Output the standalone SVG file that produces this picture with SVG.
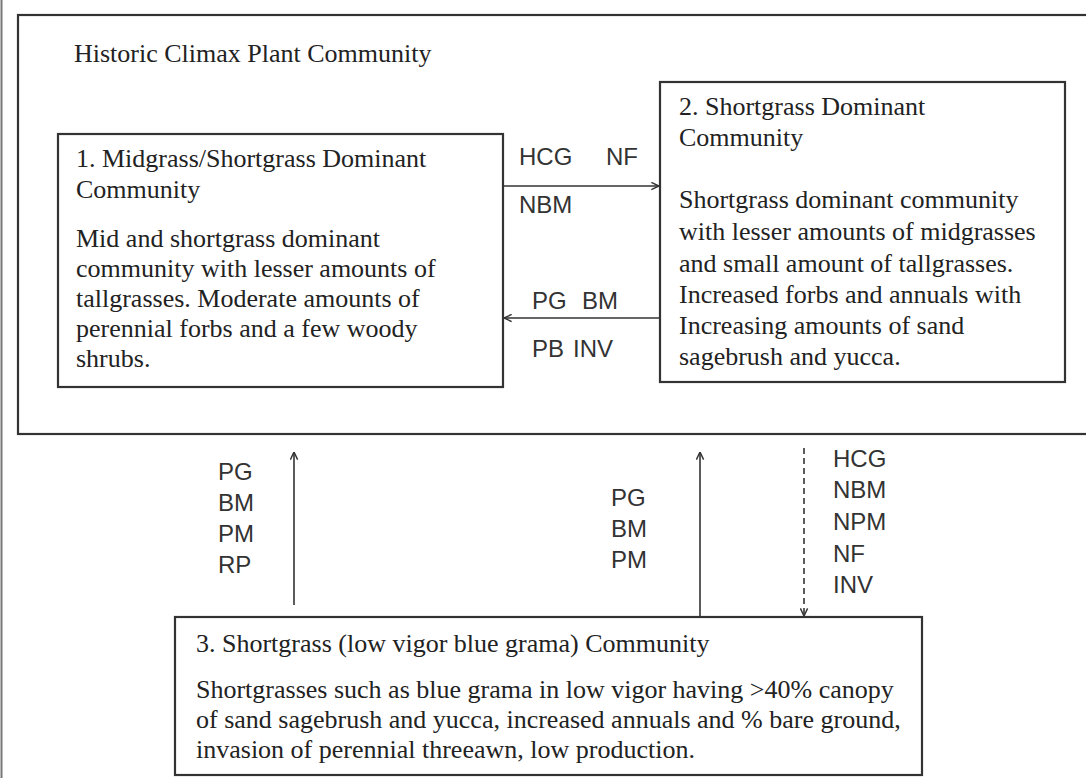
<svg xmlns="http://www.w3.org/2000/svg" width="1086" height="778" viewBox="0 0 1086 778">
<style>
.box{fill:#fff;stroke:#333;stroke-width:2.2}
.serif{font-family:"Liberation Serif","Times New Roman",serif;font-size:26px;fill:#222}
.sans{font-family:"Liberation Sans",Arial,sans-serif;font-size:24px;fill:#333}
.arr{stroke:#333;stroke-width:1.6;fill:none}
</style>
<defs>
<marker id="ah" viewBox="0 0 10 10" refX="9.5" refY="5" markerWidth="9" markerHeight="9" markerUnits="userSpaceOnUse" orient="auto">
<path d="M1,1 L9.5,5 L1,9" fill="none" stroke="#333" stroke-width="1.6"/>
</marker>
</defs>
<rect width="1086" height="778" fill="#fff"/>
<line x1="1.5" y1="0" x2="1.5" y2="778" stroke="#777" stroke-width="2"/>
<g id="hcpc">
<rect class="box" x="18" y="15" width="1090" height="419"/>
<text class="serif" x="74" y="62">Historic Climax Plant Community</text>
</g>
<g id="node1">
<rect class="box" x="58" y="134" width="445" height="253"/>
<text class="serif" x="76" y="167">1. Midgrass/Shortgrass Dominant</text>
<text class="serif" x="76" y="198">Community</text>
<text class="serif" x="76" y="247">Mid and shortgrass dominant</text>
<text class="serif" x="76" y="277">community with lesser amounts of</text>
<text class="serif" x="76" y="307">tallgrasses. Moderate amounts of</text>
<text class="serif" x="76" y="337">perennial forbs and a few woody</text>
<text class="serif" x="76" y="367">shrubs.</text>
</g>
<g id="node2">
<rect class="box" x="660" y="82" width="405" height="300"/>
<text class="serif" x="679" y="115">2. Shortgrass Dominant</text>
<text class="serif" x="679" y="146">Community</text>
<text class="serif" x="679" y="208">Shortgrass dominant community</text>
<text class="serif" x="679" y="240">with lesser amounts of midgrasses</text>
<text class="serif" x="679" y="272">and small amount of tallgrasses.</text>
<text class="serif" x="679" y="303">Increased forbs and annuals with</text>
<text class="serif" x="679" y="334">Increasing amounts of sand</text>
<text class="serif" x="679" y="365">sagebrush and yucca.</text>
</g>
<g id="node3">
<rect class="box" x="175" y="617" width="747" height="158"/>
<text class="serif" x="196" y="652">3. Shortgrass (low vigor blue grama) Community</text>
<text class="serif" x="196" y="698">Shortgrasses such as blue grama in low vigor having &gt;40% canopy</text>
<text class="serif" x="196" y="728">of sand sagebrush and yucca, increased annuals and % bare ground,</text>
<text class="serif" x="196" y="758">invasion of perennial threeawn, low production.</text>
</g>
<g id="connectors">
<line class="arr" x1="503" y1="186" x2="659" y2="186" marker-end="url(#ah)"/>
<line class="arr" x1="660" y1="318" x2="504" y2="318" marker-end="url(#ah)"/>
<line class="arr" x1="294" y1="605" x2="294" y2="452" marker-end="url(#ah)"/>
<line class="arr" x1="700" y1="617" x2="700" y2="452" marker-end="url(#ah)"/>
<line class="arr" x1="804" y1="448" x2="804" y2="616" stroke-dasharray="6,4" marker-end="url(#ah)"/>
<text class="sans" x="519" y="165">HCG</text>
<text class="sans" x="606" y="165">NF</text>
<text class="sans" x="519" y="213">NBM</text>
<text class="sans" x="532" y="309">PG</text>
<text class="sans" x="582" y="309">BM</text>
<text class="sans" x="532" y="357">PB</text>
<text class="sans" x="573" y="357">INV</text>
<text class="sans" x="218" y="480">PG</text>
<text class="sans" x="218" y="511">BM</text>
<text class="sans" x="218" y="542">PM</text>
<text class="sans" x="218" y="573">RP</text>
<text class="sans" x="611" y="506">PG</text>
<text class="sans" x="611" y="537">BM</text>
<text class="sans" x="611" y="568">PM</text>
<text class="sans" x="833" y="467">HCG</text>
<text class="sans" x="833" y="498">NBM</text>
<text class="sans" x="833" y="530">NPM</text>
<text class="sans" x="833" y="562">NF</text>
<text class="sans" x="833" y="593">INV</text>
</g>
</svg>
